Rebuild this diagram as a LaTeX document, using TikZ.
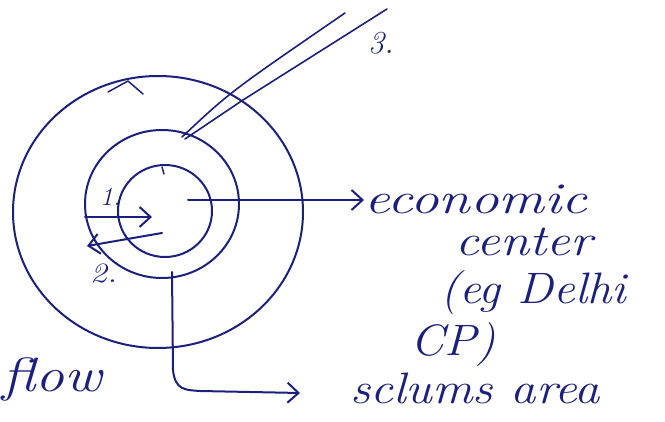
\documentclass[tikz,border=0pt]{standalone}
\usepackage{fontspec}
\setmainfont{Latin Modern Roman}
\usetikzlibrary{arrows.meta}
\definecolor{ink}{RGB}{28,32,125}
\newcommand{\wide}[2][1.25]{\scalebox{#1}[1]{#2}}
\begin{document}
\begin{tikzpicture}[x=1pt,y=-1pt,
  pen/.style={draw=ink,line width=2pt,line cap=round,line join=round},
  hand/.style={text=ink,font=\itshape,inner sep=0pt,anchor=base west},
  tip/.style={-{Straight Barb[length=11pt,width=20pt,line width=2pt]}}]
\useasboundingbox (0,0) rectangle (665,422);
% circles
\draw[pen] (158,212) ellipse [x radius=145, y radius=136];
\draw[pen] (162,204) ellipse [x radius=77, y radius=74];
\draw[pen] (165,211) ellipse [x radius=47, y radius=46];
% small marks
\draw[pen,line width=1.5pt] (108,92) -- (128,81) -- (143,94);
\draw[pen,line width=1.5pt] (162,167) -- (164,174);
% arrow 1
\coordinate (a1s) at (85,217);
\coordinate (a1e) at (152,217);
\draw[pen,tip] (a1s) -- (a1e);
\node[hand,font=\itshape\fontsize{26}{26}\selectfont] (l1) at (100,206) {1.};
% arrow 2
\coordinate (a2s) at (162,233);
\coordinate (a2e) at (87,246);
\draw[pen,tip] (a2s) -- (a2e);
\node[hand,font=\itshape\fontsize{28}{28}\selectfont] (l2) at (90,283) {\wide[1.2]{2.}};
% lines 3
\coordinate (b1s) at (182,137);
\coordinate (b1e) at (345,13);
\coordinate (b2s) at (185,139);
\coordinate (b2e) at (387,9);
\draw[pen,line width=1.6pt] (b1s) .. controls (230,92) .. (b1e);
\draw[pen,line width=1.6pt] (b2s) -- (243,100) -- (b2e);
\node[hand,font=\itshape\fontsize{32}{32}\selectfont] (l3) at (368,54) {3.};
% economic centre
\node[hand,font=\itshape\fontsize{44}{44}\selectfont] (ec) at (364,214) {\wide[1.3]{economic}};
\node[hand,font=\itshape\fontsize{44}{44}\selectfont] (ce) at (455,256) {\wide[1.2]{center}};
\node[hand,font=\itshape\fontsize{44}{44}\selectfont] (eg) at (440,304) {\wide[1.1]{(eg Delhi}};
\node[hand,font=\itshape\fontsize{44}{44}\selectfont] (cp) at (410,356) {\wide[1.1]{CP)}};
\coordinate (es) at (188,200);
\draw[pen,tip] (es) -- (ec.west |- es);
% slums
\node[hand,font=\itshape\fontsize{44}{44}\selectfont] (sl) at (350,404) {\wide[1.15]{sclums area}};
\coordinate (ss) at (172,272);
\coordinate (se) at (300,393);
\draw[pen,tip] (ss) -- (173,370) .. controls (175,390) and (185,390) .. (200,391) -- (se);
% flow
\node[hand,font=\itshape\fontsize{48}{48}\selectfont] (fl) at (2,392) {\wide[1.2]{flow}};
\end{tikzpicture}
\end{document}
